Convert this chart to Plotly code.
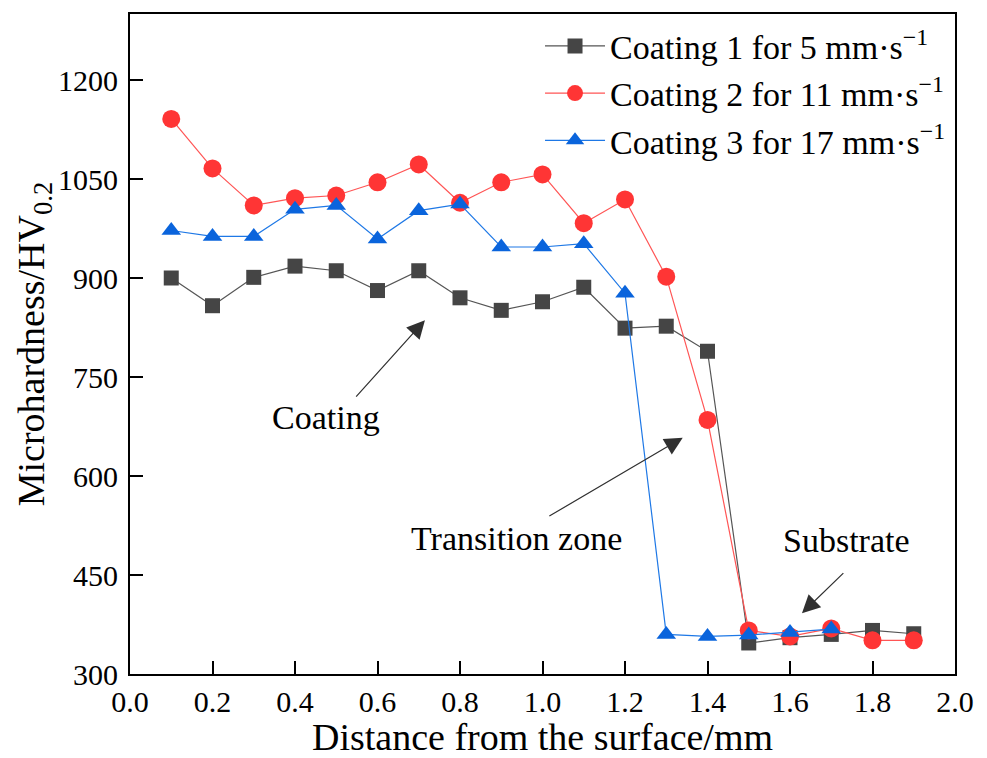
import plotly.graph_objects as go

x1 = [0.1, 0.2, 0.3, 0.4, 0.5, 0.6, 0.7, 0.8, 0.9, 1.0, 1.1, 1.2, 1.3, 1.4, 1.5, 1.6, 1.7, 1.8, 1.9]
y1 = [900, 858, 901, 918, 911, 881, 911, 870, 851, 864, 886, 824, 827, 789, 347, 355, 360, 366, 361]

x2 = [0.1, 0.2, 0.3, 0.4, 0.5, 0.6, 0.7, 0.8, 0.9, 1.0, 1.1, 1.2, 1.3, 1.4, 1.5, 1.6, 1.7, 1.8, 1.9]
y2 = [1141, 1066, 1010, 1021, 1025, 1045, 1072, 1014, 1045, 1057, 983, 1019, 902, 685, 366, 357, 369, 351, 351]

x3 = [0.1, 0.2, 0.3, 0.4, 0.5, 0.6, 0.7, 0.8, 0.9, 1.0, 1.1, 1.2, 1.3, 1.4, 1.5, 1.6, 1.7]
y3 = [972, 963, 963, 1004, 1010, 959, 1002, 1012, 947, 947, 952, 877, 360, 357, 359, 363, 368]

names = ["Coating 1 for 5 mm·s<sup>−1</sup>",
         "Coating 2 for 11 mm·s<sup>−1</sup>",
         "Coating 3 for 17 mm·s<sup>−1</sup>"]

xtick_vals = [0, 0.2, 0.4, 0.6, 0.8, 1.0, 1.2, 1.4, 1.6, 1.8, 2.0]
xtick_text = ["0.0", "0.2", "0.4", "0.6", "0.8", "1.0", "1.2", "1.4", "1.6", "1.8", "2.0"]
ytick_vals = [300, 450, 600, 750, 900, 1050, 1200]

FONT = "Liberation Serif"

fig = go.Figure()
fig.add_trace(go.Scatter(x=x1, y=y1, name=names[0], mode="lines+markers",
                         line=dict(color="#555555", width=1.2),
                         marker=dict(symbol="square", size=15, color="#454545")))
fig.add_trace(go.Scatter(x=x2, y=y2, name=names[1], mode="lines+markers",
                         line=dict(color="#FF5555", width=1.2),
                         marker=dict(symbol="circle", size=18, color="#FF3535")))
fig.add_trace(go.Scatter(x=x3, y=y3, name=names[2], mode="lines+markers",
                         line=dict(color="#1E78E6", width=1.2),
                         marker=dict(symbol="triangle-up", size=17, color="#0A64DC")))

# annotations: labels and arrows
labels = [("Coating", 0.475, 689), ("Transition zone", 0.936, 506), ("Substrate", 1.736, 502)]
arrows = [((0.545, 718), (0.715, 836)), ((1.013, 538), (1.34, 658)), ((1.733, 455), (1.629, 392))]
for txt, lx, ly in labels:
    fig.add_annotation(x=lx, y=ly, xref="x", yref="y", text=txt, showarrow=False,
                       font=dict(family=FONT, size=34, color="black"))
for (tx, ty), (hx, hy) in arrows:
    fig.add_annotation(x=hx, y=hy, ax=tx, ay=ty, xref="x", yref="y", axref="x", ayref="y",
                       text="", showarrow=True, arrowhead=2, arrowsize=3, arrowwidth=1.2,
                       arrowcolor="#303030")

fig.update_xaxes(range=[0, 2.0], tickvals=xtick_vals, ticktext=xtick_text,
                 ticks="inside", ticklen=13, tickwidth=2, tickcolor="black",
                 showline=True, linewidth=2, linecolor="black", mirror=True,
                 showgrid=False, zeroline=False,
                 tickfont=dict(family=FONT, size=30, color="black"),
                 title=dict(text="Distance from the surface/mm", font=dict(family=FONT, size=38, color="black"),
                            standoff=1))
fig.update_yaxes(range=[300, 1300], tickvals=ytick_vals,
                 ticks="inside", ticklen=13, tickwidth=2, tickcolor="black",
                 showline=True, linewidth=2, linecolor="black", mirror=True,
                 showgrid=False, zeroline=False, ticklabelstandoff=4,
                 tickfont=dict(family=FONT, size=30, color="black"),
                 title=dict(text="Microhardness/HV<sub>0.2</sub>", font=dict(family=FONT, size=38, color="black"),
                            standoff=0))

fig.update_layout(
    width=987, height=758,
    margin=dict(l=130, r=32, t=13, b=80),
    paper_bgcolor="white", plot_bgcolor="white",
    showlegend=True,
    legend=dict(x=0.497, y=0.995, xanchor="left", yanchor="top",
                bgcolor="rgba(0,0,0,0)", borderwidth=0,
                font=dict(family=FONT, size=34, color="black"),
                itemwidth=60),
)

fig.write_html("out.html")
